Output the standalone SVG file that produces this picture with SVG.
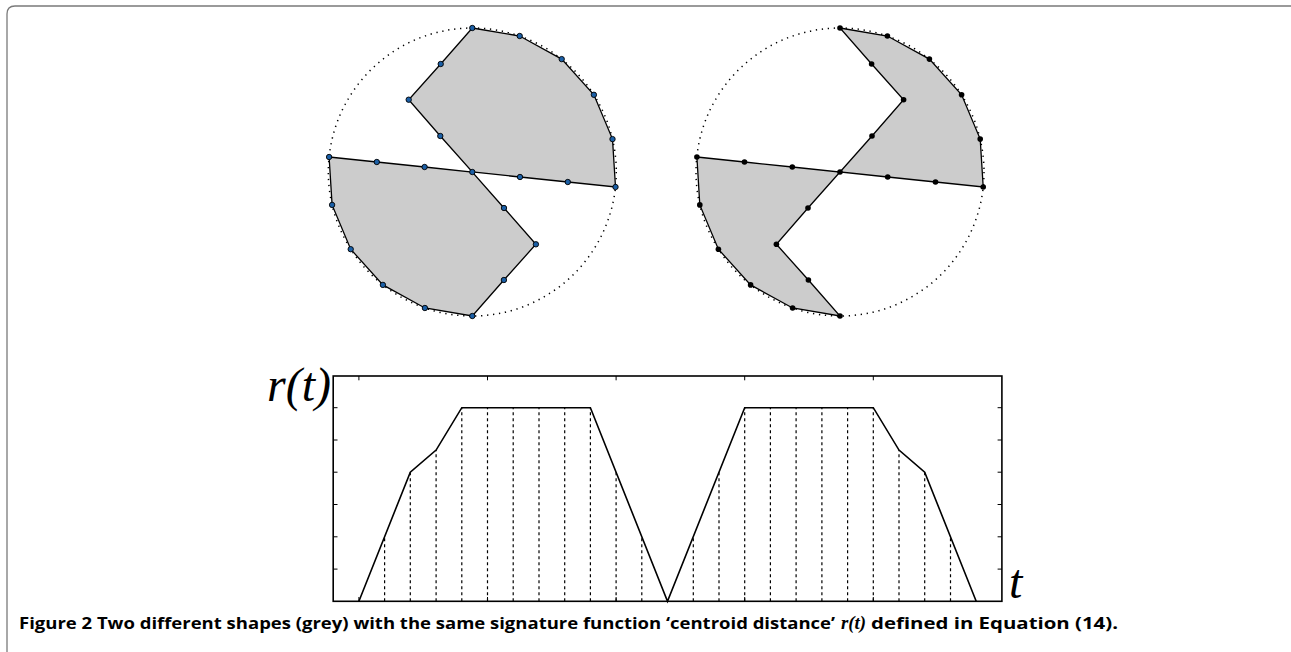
<svg xmlns="http://www.w3.org/2000/svg" width="1291" height="652" viewBox="0 0 1291 652">
<style>
.frame{fill:none;stroke:#7a7a7a;stroke-width:1.3}
.circ{fill:none;stroke:#000;stroke-width:1.5;stroke-dasharray:1.3 4.7}
.shape{fill:#cccccc;stroke:#000;stroke-width:1.3;stroke-linejoin:miter}
.dotb{fill:#1b5fa6;stroke:#000;stroke-width:0.9}
.dotk{fill:#000}
.axis{fill:none;stroke:#000;stroke-width:1.6}
.tick{stroke:#000;stroke-width:1}
.curve{fill:none;stroke:#000;stroke-width:1.6;stroke-linejoin:miter}
.dash{stroke:#000;stroke-width:1.2;stroke-dasharray:3 3}
.lbl{font-family:"Liberation Serif",serif;font-style:italic;font-size:48px;fill:#000}
.cap{font-family:"Open Sans","Liberation Sans",sans-serif;font-weight:bold;font-size:16.5px;fill:#000}
.capm{font-family:"Liberation Serif",serif;font-weight:bold;font-style:italic;font-size:18px;fill:#000}
</style>
<path class="frame" d="M7,652 V14 Q7,6 15,6 H1291"/>

<g id="shape-left">
<circle class="circ" cx="472.3" cy="172" r="144"/>
<polygon class="shape" points="472.3,28 519.7,36 561.7,59.1 593.9,94.8 612.5,139.1 615.5,187 567.8,182 520,177 472.3,172 440.3,136 408.7,99.7 440.7,64"/>
<polygon class="shape" points="329.1,157 376.8,162 424.6,167 472.3,172 504,208 535.9,244.3 503.9,280 472.3,316 424.9,308 382.9,284.9 350.7,249.2 332.1,204.9"/>
<g class="dotb">
<circle cx="472.3" cy="28" r="2.7"/><circle cx="519.7" cy="36" r="2.7"/><circle cx="561.7" cy="59.1" r="2.7"/><circle cx="593.9" cy="94.8" r="2.7"/><circle cx="612.5" cy="139.1" r="2.7"/><circle cx="615.5" cy="187" r="2.7"/><circle cx="567.8" cy="182" r="2.7"/><circle cx="520" cy="177" r="2.7"/><circle cx="472.3" cy="172" r="2.7"/><circle cx="440.3" cy="136" r="2.7"/><circle cx="408.7" cy="99.7" r="2.7"/><circle cx="440.7" cy="64" r="2.7"/>
<circle cx="329.1" cy="157" r="2.7"/><circle cx="376.8" cy="162" r="2.7"/><circle cx="424.6" cy="167" r="2.7"/><circle cx="504" cy="208" r="2.7"/><circle cx="535.9" cy="244.3" r="2.7"/><circle cx="503.9" cy="280" r="2.7"/><circle cx="472.3" cy="316" r="2.7"/><circle cx="424.9" cy="308" r="2.7"/><circle cx="382.9" cy="284.9" r="2.7"/><circle cx="350.7" cy="249.2" r="2.7"/><circle cx="332.1" cy="204.9" r="2.7"/>
</g>
</g>

<g id="shape-right">
<circle class="circ" cx="840" cy="172" r="144"/>
<polygon class="shape" points="840,28 887.4,36 929.4,59.1 961.6,94.8 980.2,139.1 983.2,187 935.5,182 887.7,177 840,172 872,136 903.6,99.7 871.6,64"/>
<polygon class="shape" points="696.9,157 744.5,162 792.3,167 840,172 808,208 776.4,244.3 808.4,280 840,316 792.6,308 750.6,284.9 718.4,249.2 699.8,204.9"/>
<g class="dotk">
<circle cx="840" cy="28" r="2.8"/><circle cx="887.4" cy="36" r="2.8"/><circle cx="929.4" cy="59.1" r="2.8"/><circle cx="961.6" cy="94.8" r="2.8"/><circle cx="980.2" cy="139.1" r="2.8"/><circle cx="983.2" cy="187" r="2.8"/><circle cx="935.5" cy="182" r="2.8"/><circle cx="887.7" cy="177" r="2.8"/><circle cx="840" cy="172" r="2.8"/><circle cx="872" cy="136" r="2.8"/><circle cx="903.6" cy="99.7" r="2.8"/><circle cx="871.6" cy="64" r="2.8"/>
<circle cx="696.9" cy="157" r="2.8"/><circle cx="744.5" cy="162" r="2.8"/><circle cx="792.3" cy="167" r="2.8"/><circle cx="808" cy="208" r="2.8"/><circle cx="776.4" cy="244.3" r="2.8"/><circle cx="808.4" cy="280" r="2.8"/><circle cx="840" cy="316" r="2.8"/><circle cx="792.6" cy="308" r="2.8"/><circle cx="750.6" cy="284.9" r="2.8"/><circle cx="718.4" cy="249.2" r="2.8"/><circle cx="699.8" cy="204.9" r="2.8"/>
</g>
</g>

<g id="plot">
<g id="dashes">
<line class="dash" x1="384.6" y1="601.3" x2="384.6" y2="536.8"/>
<line class="dash" x1="410.3" y1="601.3" x2="410.3" y2="472.2"/>
<line class="dash" x1="436.1" y1="601.3" x2="436.1" y2="450.1"/>
<line class="dash" x1="461.8" y1="601.3" x2="461.8" y2="407.7"/>
<line class="dash" x1="487.5" y1="601.3" x2="487.5" y2="407.7"/>
<line class="dash" x1="513.2" y1="601.3" x2="513.2" y2="407.7"/>
<line class="dash" x1="539" y1="601.3" x2="539" y2="407.7"/>
<line class="dash" x1="564.7" y1="601.3" x2="564.7" y2="407.7"/>
<line class="dash" x1="590.4" y1="601.3" x2="590.4" y2="407.7"/>
<line class="dash" x1="616.1" y1="601.3" x2="616.1" y2="472.2"/>
<line class="dash" x1="641.8" y1="601.3" x2="641.8" y2="536.8"/>
<line class="dash" x1="693.3" y1="601.3" x2="693.3" y2="536.8"/>
<line class="dash" x1="719" y1="601.3" x2="719" y2="472.2"/>
<line class="dash" x1="744.7" y1="601.3" x2="744.7" y2="407.7"/>
<line class="dash" x1="770.4" y1="601.3" x2="770.4" y2="407.7"/>
<line class="dash" x1="796.1" y1="601.3" x2="796.1" y2="407.7"/>
<line class="dash" x1="821.9" y1="601.3" x2="821.9" y2="407.7"/>
<line class="dash" x1="847.6" y1="601.3" x2="847.6" y2="407.7"/>
<line class="dash" x1="873.3" y1="601.3" x2="873.3" y2="407.7"/>
<line class="dash" x1="899" y1="601.3" x2="899" y2="450.1"/>
<line class="dash" x1="924.7" y1="601.3" x2="924.7" y2="472.2"/>
<line class="dash" x1="950.5" y1="601.3" x2="950.5" y2="536.8"/>
</g>
<rect class="axis" x="333.2" y="376" width="668.7" height="225.3"/>
<g id="ticks">
<line class="tick" x1="333.2" y1="407.7" x2="337.5" y2="407.7"/><line class="tick" x1="333.2" y1="440" x2="337.5" y2="440"/><line class="tick" x1="333.2" y1="472.2" x2="337.5" y2="472.2"/><line class="tick" x1="333.2" y1="504.5" x2="337.5" y2="504.5"/><line class="tick" x1="333.2" y1="536.8" x2="337.5" y2="536.8"/><line class="tick" x1="333.2" y1="569.1" x2="337.5" y2="569.1"/>
<line class="tick" x1="1001.9" y1="407.7" x2="997.6" y2="407.7"/><line class="tick" x1="1001.9" y1="440" x2="997.6" y2="440"/><line class="tick" x1="1001.9" y1="472.2" x2="997.6" y2="472.2"/><line class="tick" x1="1001.9" y1="504.5" x2="997.6" y2="504.5"/><line class="tick" x1="1001.9" y1="536.8" x2="997.6" y2="536.8"/><line class="tick" x1="1001.9" y1="569.1" x2="997.6" y2="569.1"/>
<line class="tick" x1="358.9" y1="376" x2="358.9" y2="380.3"/><line class="tick" x1="487.5" y1="376" x2="487.5" y2="380.3"/><line class="tick" x1="616.1" y1="376" x2="616.1" y2="380.3"/><line class="tick" x1="744.7" y1="376" x2="744.7" y2="380.3"/><line class="tick" x1="873.3" y1="376" x2="873.3" y2="380.3"/>
<line class="tick" x1="358.9" y1="601.3" x2="358.9" y2="597"/><line class="tick" x1="487.5" y1="601.3" x2="487.5" y2="597"/><line class="tick" x1="616.1" y1="601.3" x2="616.1" y2="597"/><line class="tick" x1="744.7" y1="601.3" x2="744.7" y2="597"/><line class="tick" x1="873.3" y1="601.3" x2="873.3" y2="597"/>
</g>
<polyline class="curve" points="358.9,601.3 410.3,472.2 436.1,450.1 461.8,407.7 590.4,407.7 667.5,601.3 744.7,407.7 873.3,407.7 899,450.1 924.7,472.2 976.2,601.3"/>
<text class="lbl" x="331" y="401" text-anchor="end">r(t)</text>
<text class="lbl" x="1009" y="598">t</text>
</g>

<g id="caption">
<text class="cap" x="19" y="629" textLength="816" lengthAdjust="spacingAndGlyphs">Figure 2 Two different shapes (grey) with the same signature function ‘centroid distance’</text>
<text class="capm" x="841" y="629" textLength="25" lengthAdjust="spacingAndGlyphs">r(t)</text>
<text class="cap" x="871" y="629" textLength="247" lengthAdjust="spacingAndGlyphs">defined in Equation (14).</text>
</g>
</svg>
